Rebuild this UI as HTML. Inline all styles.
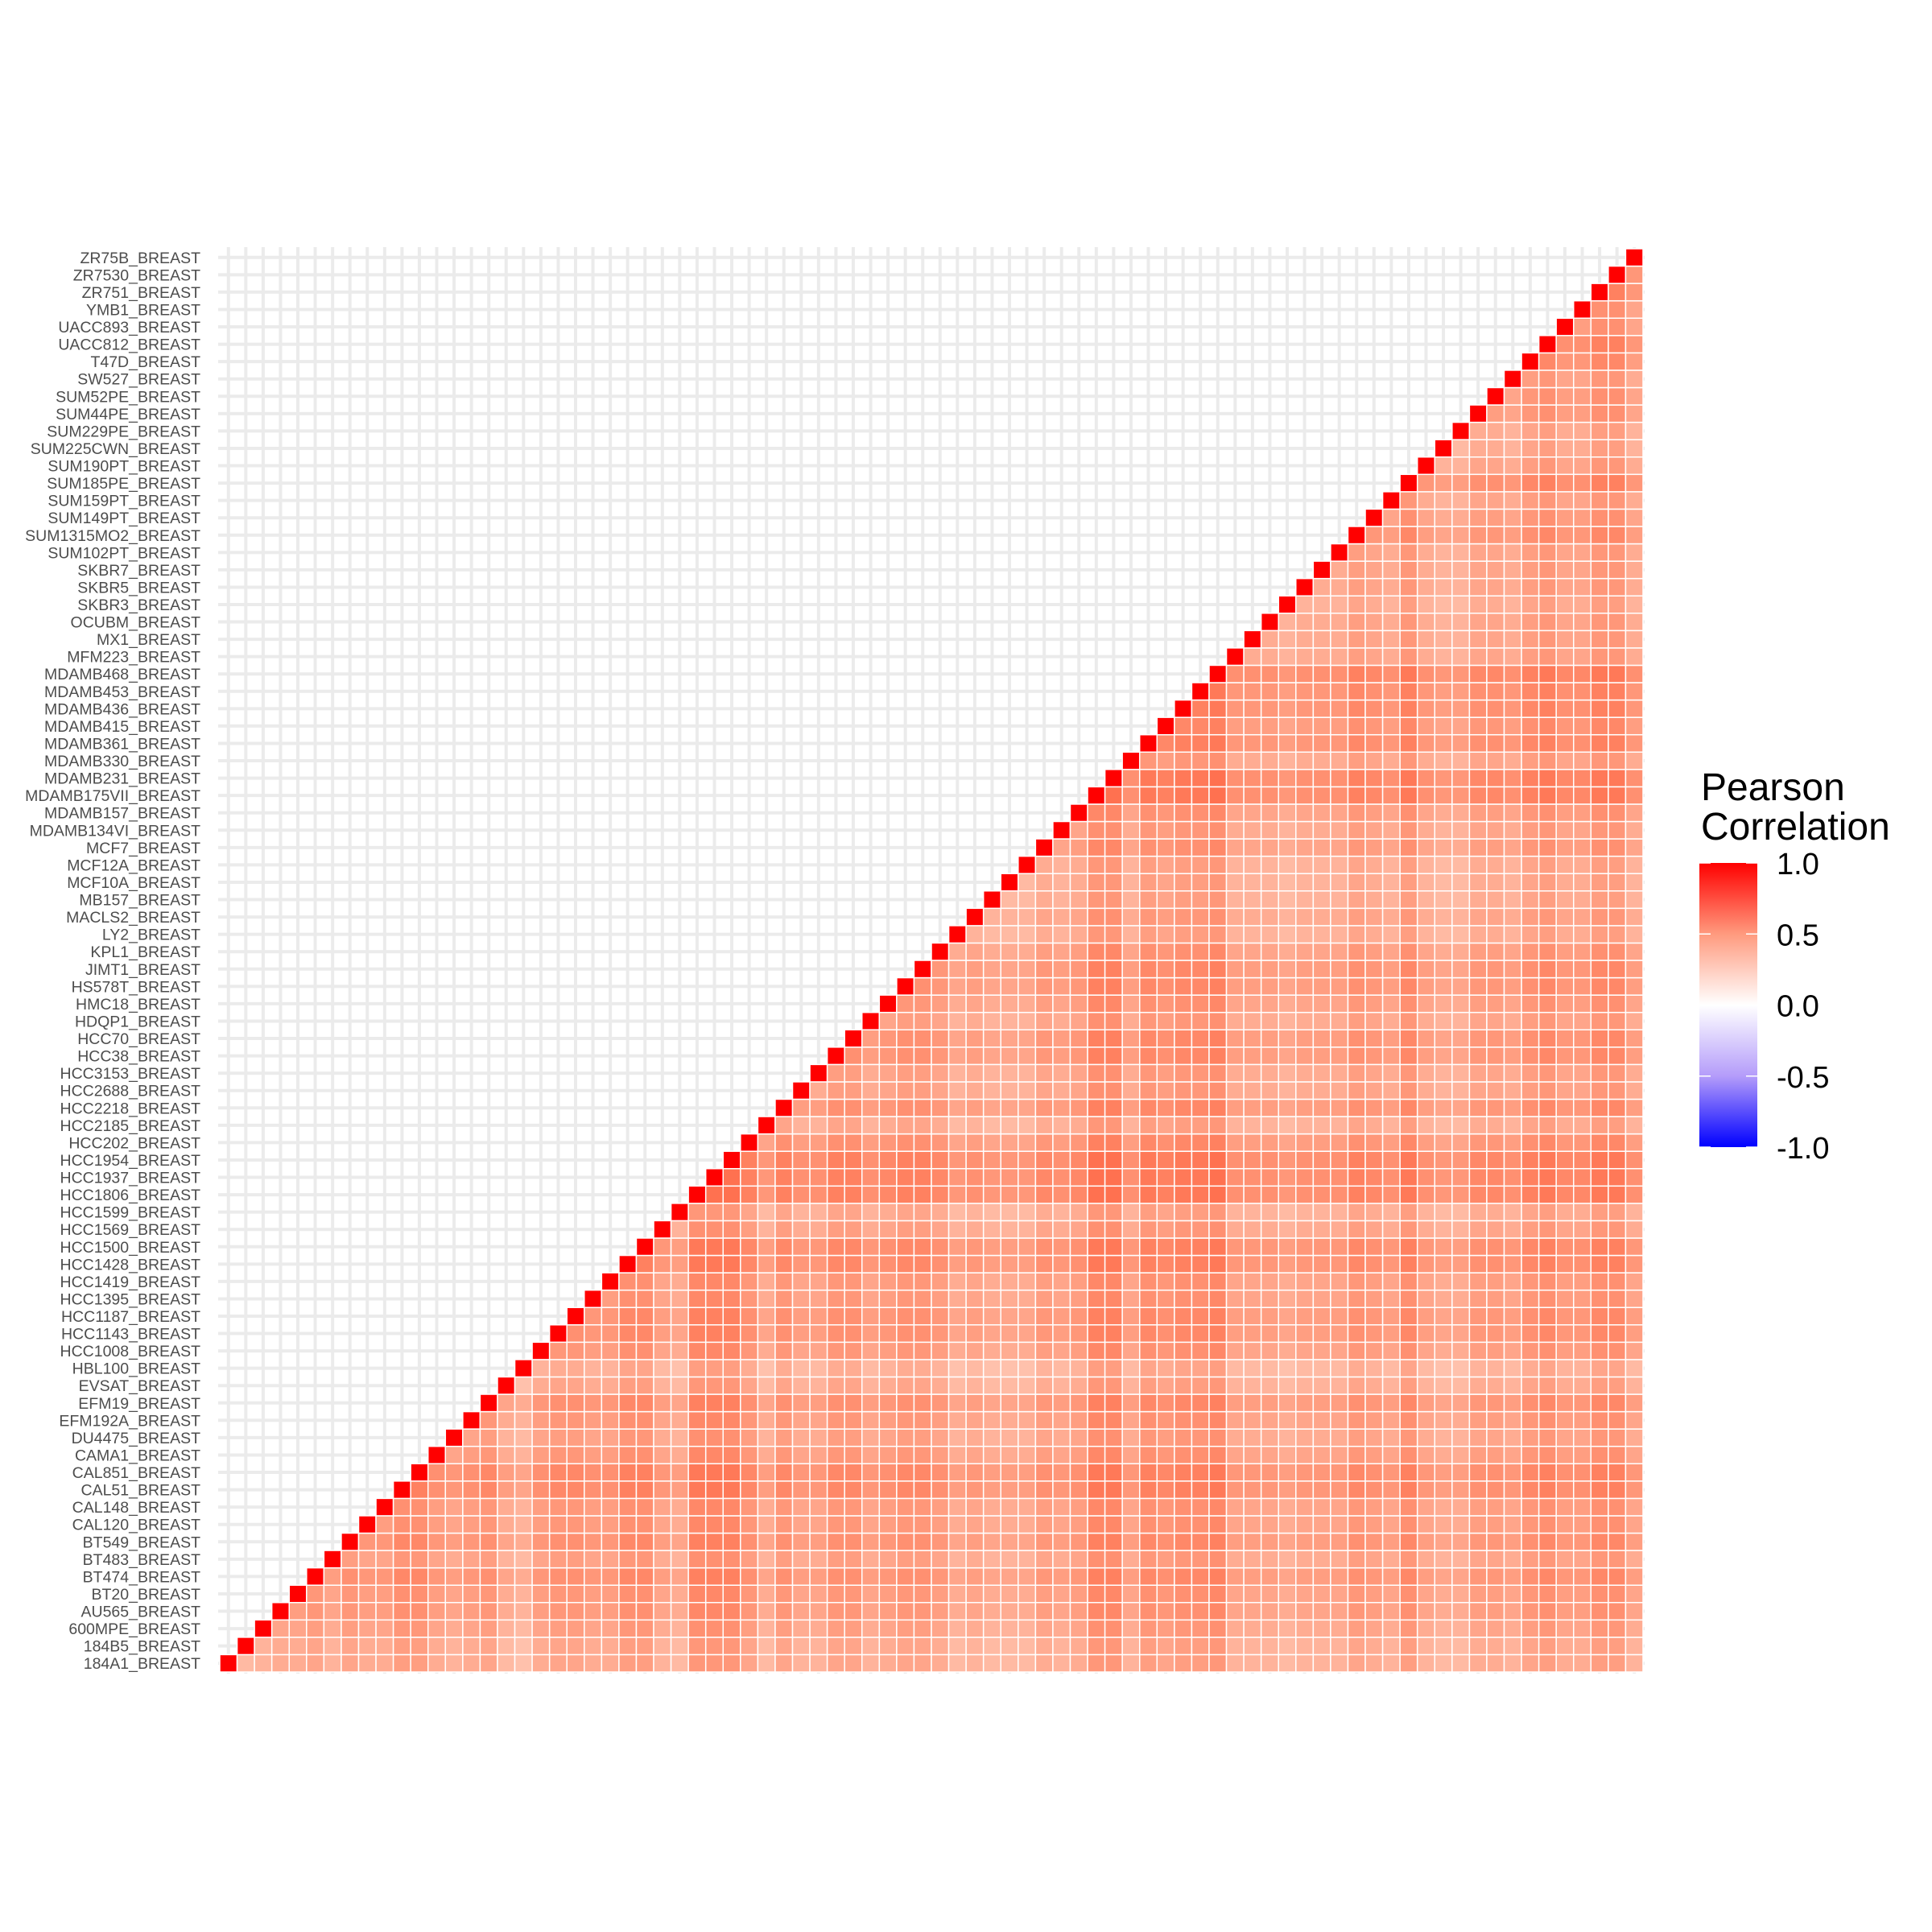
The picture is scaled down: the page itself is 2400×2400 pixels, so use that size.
<!DOCTYPE html>
<html><head><meta charset="utf-8">
<style>
html,body{margin:0;padding:0;background:#fff;}
svg{display:block;}
</style></head>
<body>
<svg id="chart" width="2400" height="2400" viewBox="0 0 2400 2400" xmlns="http://www.w3.org/2000/svg">
<rect x="0" y="0" width="2400" height="2400" fill="#fff"/>
<g id="grid"></g>
<g id="tiles"></g>
<g id="ylabels"></g>
<g id="legend">
  <text x="2113" y="994" font-family="Liberation Sans, sans-serif" font-size="48" fill="#000">Pearson</text>
  <text x="2113" y="1043" font-family="Liberation Sans, sans-serif" font-size="48" fill="#000">Correlation</text>
  <defs>
    <linearGradient id="cbar" x1="0" y1="0" x2="0" y2="1">
      <stop offset="0" stop-color="#FF0000"/>
      <stop offset="0.25" stop-color="#FF9A7E"/>
      <stop offset="0.5" stop-color="#FFFFFF"/>
      <stop offset="0.75" stop-color="#B49CFA"/>
      <stop offset="1" stop-color="#0000FF"/>
    </linearGradient>
  </defs>
  <rect x="2111" y="1072" width="72" height="353" fill="url(#cbar)"/>
  <g id="cticks"></g>
</g>
</svg>
<script>
// Sample names, ordered bottom-to-top (y) and left-to-right (x)
const samples = ["184A1","184B5","600MPE","AU565","BT20","BT474","BT483","BT549","CAL120","CAL148","CAL51","CAL851","CAMA1","DU4475","EFM192A","EFM19","EVSAT","HBL100","HCC1008","HCC1143","HCC1187","HCC1395","HCC1419","HCC1428","HCC1500","HCC1569","HCC1599","HCC1806","HCC1937","HCC1954","HCC202","HCC2185","HCC2218","HCC2688","HCC3153","HCC38","HCC70","HDQP1","HMC18","HS578T","JIMT1","KPL1","LY2","MACLS2","MB157","MCF10A","MCF12A","MCF7","MDAMB134VI","MDAMB157","MDAMB175VII","MDAMB231","MDAMB330","MDAMB361","MDAMB415","MDAMB436","MDAMB453","MDAMB468","MFM223","MX1","OCUBM","SKBR3","SKBR5","SKBR7","SUM102PT","SUM1315MO2","SUM149PT","SUM159PT","SUM185PE","SUM190PT","SUM225CWN","SUM229PE","SUM44PE","SUM52PE","SW527","T47D","UACC812","UACC893","YMB1","ZR751","ZR7530","ZR75B"];
// Per-sample correlation loading (0-9 scale)
const sampleLoading = [3,3,4,5,5,6,4,6,5,5, 7,7,5,4,5,6,3,2,5,6, 6,5,5,7,7,4,3,8,8,8, 6,3,6,4,4,6,6,4,5,6, 6,5,3,4,3,3,3,5,4,5, 8,8,4,7,6,7,7,8,4,4, 4,3,4,4,4,6,5,4,7,4, 3,3,5,5,4,6,7,5,5,7, 7,4];
const legendTicks = [1.0, 0.5, 0.0, -0.5, -1.0];
const legendTickLabels = ["1.0","0.5","0.0","-0.5","-1.0"];

const NS = "http://www.w3.org/2000/svg";
const N = samples.length;
const X0 = 273, X1 = 2041, Y0 = 309, Y1 = 2077;
const cw = (X1 - X0) / N, ch = (Y1 - Y0) / N;
function xPos(j){ return X0 + j * cw; }
function yPos(i){ return Y1 - (i + 1) * ch; }
function corr(i, j){ return i === j ? 1 : 0.15 + 0.07 * (sampleLoading[i] + sampleLoading[j]) / 2; }

// Lab interpolation (ggplot gradient2)
function lab2rgb(L,a,b){
  let y=(L+16)/116, x=a/500+y, z=y-b/200;
  const f=t=>{const t3=t*t*t;return t3>0.008856?t3:(t-16/116)/7.787;};
  x=0.95047*f(x); y=1.0*f(y); z=1.08883*f(z);
  let r=x*3.2406+y*-1.5372+z*-0.4986, g=x*-0.9689+y*1.8758+z*0.0415, bb=x*0.0557+y*-0.2040+z*1.0570;
  const c=v=>{v=v>0.0031308?1.055*Math.pow(v,1/2.4)-0.055:12.92*v;return Math.round(Math.max(0,Math.min(1,v))*255);};
  return "rgb("+c(r)+","+c(g)+","+c(bb)+")";
}
function fillColor(v){
  const W=[100,0,0], R=[53.24,80.09,67.20], B=[32.30,79.19,-107.86];
  const T=v>=0?R:B, t=Math.min(1,Math.abs(v));
  return lab2rgb(W[0]+(T[0]-W[0])*t, W[1]+(T[1]-W[1])*t, W[2]+(T[2]-W[2])*t);
}

const grid = document.getElementById("grid");
for (let k = 0; k < N; k++) {
  const cx = xPos(k) + cw/2, cy = yPos(k) + ch/2;
  const v = document.createElementNS(NS, "line");
  
  
  v.setAttribute("x1", cx); v.setAttribute("x2", cx); v.setAttribute("y1", Y0 - 2); v.setAttribute("y2", Y1 + 2);
  v.setAttribute("stroke", "#EBEBEB"); v.setAttribute("stroke-width", "4");
  grid.appendChild(v);
  const h = document.createElementNS(NS, "line");
  
  
  h.setAttribute("y1", cy); h.setAttribute("y2", cy); h.setAttribute("x1", X0 - 2); h.setAttribute("x2", X1 + 2);
  h.setAttribute("stroke", "#EBEBEB"); h.setAttribute("stroke-width", "4");
  grid.appendChild(h);
}

const tiles = document.getElementById("tiles");
for (let i = 0; i < N; i++) {
  for (let j = i; j < N; j++) {
    const r = document.createElementNS(NS, "rect");
    
    
    r.setAttribute("x", xPos(j)); r.setAttribute("y", yPos(i));
    r.setAttribute("width", cw); r.setAttribute("height", ch);
    r.setAttribute("fill", fillColor(corr(i, j)));
    r.setAttribute("stroke", "#fff"); r.setAttribute("stroke-width", "1.5");
    tiles.appendChild(r);
  }
}

const yl = document.getElementById("ylabels");
for (let i = 0; i < N; i++) {
  const t = document.createElementNS(NS, "text");
  
  
  t.setAttribute("x", 249); t.setAttribute("y", yPos(i) + ch/2 + 7);
  t.setAttribute("text-anchor", "end");
  t.setAttribute("font-family", "Liberation Sans, sans-serif");
  t.setAttribute("font-size", "19.5"); t.setAttribute("fill", "#4D4D4D");
  t.textContent = samples[i] + "_BREAST";
  yl.appendChild(t);
}

const ct = document.getElementById("cticks");
const LB0 = 1072, LB1 = 1425;
function legY(v){ return LB0 + (1 - v) / 2 * (LB1 - LB0); }
legendTicks.forEach((v, k) => {
  const y = legY(v);
  [[2111, 2125], [2169, 2183]].forEach(p => {
    const l = document.createElementNS(NS, "line");
    
    
    l.setAttribute("x1", p[0]); l.setAttribute("x2", p[1]); l.setAttribute("y1", y); l.setAttribute("y2", y);
    l.setAttribute("stroke", "#fff"); l.setAttribute("stroke-width", "1.5");
    ct.appendChild(l);
  });
  const t = document.createElementNS(NS, "text");
  
  
  t.setAttribute("x", 2207); t.setAttribute("y", y + 14);
  t.setAttribute("font-family", "Liberation Sans, sans-serif");
  t.setAttribute("font-size", "38"); t.setAttribute("fill", "#000");
  t.textContent = legendTickLabels[k];
  ct.appendChild(t);
});
</script>
</body></html>
